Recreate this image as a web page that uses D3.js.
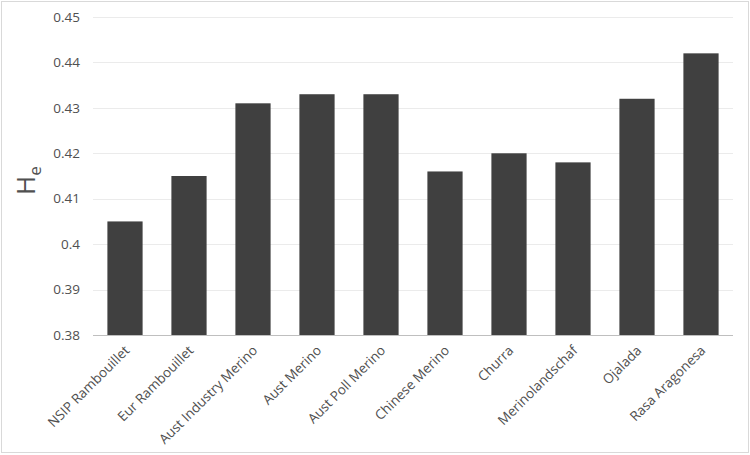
<!DOCTYPE html>
<html>
<head>
<meta charset="utf-8">
<script src="https://cdn.jsdelivr.net/npm/d3@7"></script>
<style>
  body { margin: 0; background: #fff; }
  text { font-family: "Open Sans", "Liberation Sans", sans-serif; }
</style>
</head>
<body>
<div id="chart"></div>
<script>
const breeds = ['NSIP Rambouillet', 'Eur Rambouillet', 'Aust Industry Merino', 'Aust Merino',
  'Aust Poll Merino', 'Chinese Merino', 'Churra', 'Merinolandschaf', 'Ojalada', 'Rasa Aragonesa'];
const heValues = [0.405, 0.415, 0.431, 0.433, 0.433, 0.416, 0.420, 0.418, 0.432, 0.442];
const yTicks = [0.38, 0.39, 0.40, 0.41, 0.42, 0.43, 0.44, 0.45];

const chartw = 750;
const charth = 455;
const margin = { top: 17, right: 17, bottom: 120, left: 93 };
const width = chartw - margin.left - margin.right;
const height = charth - margin.top - margin.bottom;

const x = d3.scaleBand()
  .domain(breeds)
  .range([0, width])
  .paddingInner(0.45)
  .paddingOuter(0.225);
const y = d3.scaleLinear()
  .domain([0.38, 0.45])
  .range([height, 0]);

const svgRoot = d3.select('#chart').append('svg')
  .attr('width', chartw)
  .attr('height', charth);

// outer frame
svgRoot.append('rect')
  .attr('x', 1.5).attr('y', 1.5)
  .attr('width', chartw - 3).attr('height', charth - 4)
  .attr('fill', '#fff')
  .attr('stroke', '#d9d9d9');

const svg = svgRoot.append('g')
  .attr('transform', 'translate(' + margin.left + ',' + margin.top + ')');

// gridlines
svg.append('g').selectAll('line')
  .data(yTicks.slice(1))
  .enter().append('line')
  .attr('x1', 0).attr('x2', width)
  .attr('y1', d => Math.round(y(d)) + 0.5)
  .attr('y2', d => Math.round(y(d)) + 0.5)
  .attr('stroke', '#ebebeb');

// y labels
svg.append('g').selectAll('text')
  .data(yTicks)
  .enter().append('text')
  .attr('x', -13)
  .attr('y', d => y(d))
  .attr('dy', '0.35em')
  .attr('text-anchor', 'end')
  .attr('font-size', 13.5)
  .attr('fill', '#505050')
  .text(d => d3.format('')(+d.toFixed(2)));

// bars
svg.append('g').selectAll('rect')
  .data(breeds)
  .enter().append('rect')
  .attr('x', d => x(d))
  .attr('y', (d, i) => y(heValues[i]))
  .attr('width', x.bandwidth())
  .attr('height', (d, i) => height - y(heValues[i]))
  .attr('fill', '#404040');

// baseline
svg.append('line')
  .attr('x1', 0).attr('x2', width)
  .attr('y1', height + 0.5).attr('y2', height + 0.5)
  .attr('stroke', '#bfbfbf');

// x labels
svg.append('g').selectAll('text')
  .data(breeds)
  .enter().append('text')
  .attr('transform', d => 'translate(' + (x(d) + x.bandwidth() / 2 + 2) + ',' + (height + 13) + ') rotate(-45)')
  .attr('text-anchor', 'end')
  .attr('dy', '0.35em')
  .attr('font-size', 13.5)
  .attr('fill', '#505050')
  .text(d => d);

// y title
const title = svgRoot.append('text')
  .attr('transform', 'translate(35,' + (margin.top + y(0.414)) + ') rotate(-90)')
  .attr('text-anchor', 'middle')
  .attr('fill', '#505050')
  .attr('font-size', 26);
title.append('tspan').text('H');
title.append('tspan').attr('dy', 6).attr('font-size', 17).text('e');
</script>
</body>
</html>
